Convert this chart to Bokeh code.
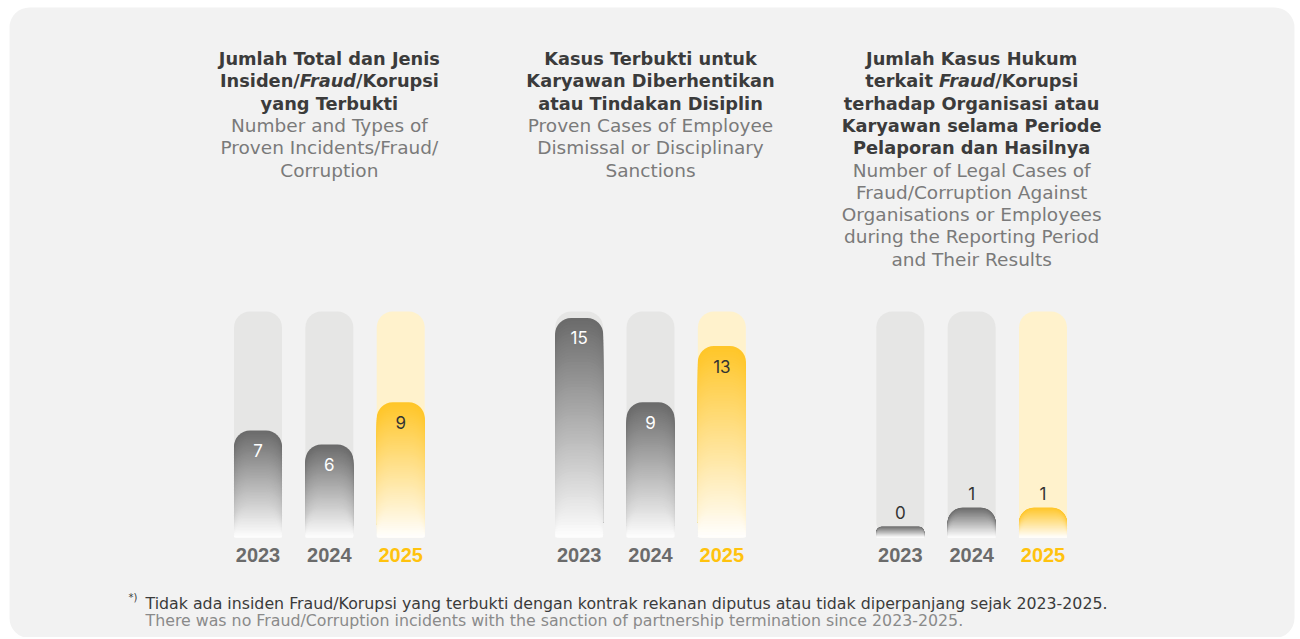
import glob
from bokeh.plotting import figure
from bokeh.models import Range1d, FactorRange, ColumnDataSource
from bokeh.core.properties import value
from bokeh.embed import file_html
from bokeh.resources import INLINE

# ---------------- data ----------------
years = ["2023", "2024", "2025"]
chart_keys = ["c1", "c2", "c3"]
proven_incidents = [7, 6, 9]
dismissal_cases = [15, 9, 13]
legal_cases = [0, 1, 1]

title1_id = ["Jumlah Total dan Jenis",
             [("Insiden/", "bold"), ("Fraud", "bold italic"), ("/Korupsi", "bold")],
             "yang Terbukti"]
title1_en = ["Number and Types of", "Proven Incidents/Fraud/", "Corruption"]
title2_id = ["Kasus Terbukti untuk", "Karyawan Diberhentikan", "atau Tindakan Disiplin"]
title2_en = ["Proven Cases of Employee", "Dismissal or Disciplinary", "Sanctions"]
title3_id = ["Jumlah Kasus Hukum",
             [("terkait ", "bold"), ("Fraud", "bold italic"), ("/Korupsi", "bold")],
             "terhadap Organisasi atau", "Karyawan selama Periode", "Pelaporan dan Hasilnya"]
title3_en = ["Number of Legal Cases of", "Fraud/Corruption Against",
             "Organisations or Employees", "during the Reporting Period", "and Their Results"]

footnote_mark = "*)"
footnote_id = ("Tidak ada insiden Fraud/Korupsi yang terbukti dengan kontrak rekanan "
               "diputus atau tidak diperpanjang sejak 2023-2025.")
footnote_en = ("There was no Fraud/Corruption incidents with the sanction of partnership "
               "termination since 2023-2025.")

# ---------------- layout / style ----------------
W, H = 1300, 637
GROUP_PAD = 1.5
SPAN = 9 + 2 * GROUP_PAD
FIRST_CENTER_PX = 257.5
PAD_SIDE = (FIRST_CENTER_PX * SPAN - 0.5 * W) / (W - 2 * FIRST_CENTER_PX)
PPU_X = W / (SPAN + 2 * PAD_SIDE)
X_START = -PAD_SIDE
BAR_W = 48 / PPU_X
RADIUS = 16


def pv(page_y):
    """page y (from top) -> frame value (from bottom)"""
    return H - page_y


def px_to_x(px):
    return px / PPU_X + X_START


TRACK_BOTTOM, TRACK_TOP = pv(537), pv(311)
SCALES = {"s12": (pv(528.5), 14.07), "s3": (pv(526), 19.0)}  # zero, px per unit

PANEL = "#F2F2F2"
TRACK_GRAY, TRACK_YELLOW = "#E6E6E5", "#FFF2CC"
BAR_GRAY, BAR_YELLOW = "#6B6B6B", "#FFC629"
YEAR_GRAY, YEAR_YELLOW = "#6B6B6B", "#FFC20E"
TITLE_DARK, TITLE_LIGHT = "#3B3B3B", "#7A7A7A"
TITLE_FONT = "DejaVu Sans"
BOLD_SIZE, REG_SIZE = 17.8, 18.5
LINE_H = 22.3
FIRST_LINE_V = pv(58)


def find_font(fname):
    for root in ("/usr/share/fonts", "/usr/local/share/fonts", "/root/.fonts"):
        hits = glob.glob(f"{root}/**/{fname}", recursive=True)
        if hits:
            return hits[0]
    return None


def text_width(txt, style, size):
    fname = "DejaVuSans-BoldOblique.ttf" if "italic" in style else "DejaVuSans-Bold.ttf"
    path = find_font(fname)
    if path:
        try:
            from PIL import ImageFont
            return ImageFont.truetype(path, int(round(size * 4))).getlength(txt) / 4
        except Exception:
            pass
    return 0.66 * size * len(txt)


def mix(c1, c2, t):
    a = [int(c1[i:i + 2], 16) for i in (1, 3, 5)]
    b = [int(c2[i:i + 2], 16) for i in (1, 3, 5)]
    return "#%02x%02x%02x" % tuple(round(a[i] + (b[i] - a[i]) * t) for i in range(3))


factors = [(k, y) for k in chart_keys for y in years]
x_range = FactorRange(factors=factors, group_padding=GROUP_PAD, factor_padding=0.0,
                      range_padding=PAD_SIDE, range_padding_units="absolute")

p = figure(width=W, height=H, output_backend="svg", toolbar_location=None,
           x_range=x_range, y_range=Range1d(0, H),
           x_axis_location=None, y_axis_location=None, min_border=0)
p.extra_y_ranges = {name: Range1d(-z / u, (H - z) / u) for name, (z, u) in SCALES.items()}
p.outline_line_color = None
p.background_fill_color = "white"
p.border_fill_color = "white"
p.grid.visible = False

# background panel
p.quad(left=[px_to_x(9)], right=[px_to_x(1294)], top=[pv(7)], bottom=[pv(637.5)],
       fill_color=PANEL, line_color=None, border_radius=20)

N = 70
charts = [
    ("c1", proven_incidents, "s12", True),
    ("c2", dismissal_cases, "s12", True),
    ("c3", legal_cases, "s3", False),
]
top_cols = [BAR_GRAY, BAR_GRAY, BAR_YELLOW]
track_cols = [TRACK_GRAY, TRACK_GRAY, TRACK_YELLOW]

for key, vals, rname, inside in charts:
    zero, ppu = SCALES[rname]
    b0 = (TRACK_BOTTOM - zero) / ppu
    tt = (TRACK_TOP - zero) / ppu
    xs = [(key, y) for y in years]
    p.vbar(x="x", top="top", bottom=b0, width=BAR_W, fill_color="c", line_color=None,
           border_radius=RADIUS, y_range_name=rname,
           source=ColumnDataSource(dict(x=xs, top=[tt] * 3, c=track_cols)))
    sx, stop, scol = [], [], []
    for x, v, c in zip(xs, vals, top_cols):
        for k in range(N, 0, -1):
            frac = k / N
            sx.append(x)
            stop.append(b0 + (v - b0) * frac)
            scol.append(mix("#FFFFFF", c, frac))
    p.vbar(x="x", top="top", bottom=b0, width=BAR_W, fill_color="c", line_color=None,
           border_radius=RADIUS, y_range_name=rname,
           source=ColumnDataSource(dict(x=sx, top=stop, c=scol)))
    if inside:
        lab_cols = ["#FFFFFF", "#FFFFFF", "#333333"]
        yoff = 20
    else:
        lab_cols = ["#333333"] * 3
        yoff = -14
    p.text(x="x", y="y", text="t", text_color="c", source=ColumnDataSource(
        dict(x=xs, y=vals, t=[str(v) for v in vals], c=lab_cols)),
        y_range_name=rname, y_offset=yoff, text_align="center", text_baseline="middle",
        text_font=value("Inter"), text_font_size="17px")
    p.text(x="x", y="y", text="t", text_color="c", source=ColumnDataSource(
        dict(x=xs, y=[pv(554)] * 3, t=years, c=[YEAR_GRAY, YEAR_GRAY, YEAR_YELLOW])),
        text_align="center", text_baseline="middle",
        text_font=value("Liberation Sans"), text_font_style="bold", text_font_size="20px")

# titles
rows = dict(x=[], y=[], t=[], xo=[], al=[], st=[], sz=[], c=[])


def add_row(x, y, t, xo, al, st, sz, c):
    for k, v in zip(rows.keys(), (x, y, t, xo, al, st, sz, c)):
        rows[k].append(v)


for key, t_id, t_en in (("c1", title1_id, title1_en), ("c2", title2_id, title2_en),
                        ("c3", title3_id, title3_en)):
    xc = (key, "2024")
    i = 0
    for line in t_id:
        y = FIRST_LINE_V - LINE_H * i
        if isinstance(line, str):
            add_row(xc, y, line, 0, "center", "bold", f"{BOLD_SIZE}px", TITLE_DARK)
        else:
            widths = [text_width(s, st, BOLD_SIZE) for s, st in line]
            xo = -sum(widths) / 2
            for (s, st), w in zip(line, widths):
                add_row(xc, y, s, xo, "left", st, f"{BOLD_SIZE}px", TITLE_DARK)
                xo += w
        i += 1
    for line in t_en:
        y = FIRST_LINE_V - LINE_H * i
        add_row(xc, y, line, 0, "center", "normal", f"{REG_SIZE}px", TITLE_LIGHT)
        i += 1

p.text(x="x", y="y", text="t", x_offset="xo", text_align="al", text_font_style="st",
       text_font_size="sz", text_color="c", text_baseline="middle",
       text_font=value(TITLE_FONT), source=ColumnDataSource(rows))

# footnote
p.text(x=[px_to_x(128)], y=[pv(597)], text=[footnote_mark], text_align="left",
       text_baseline="middle", text_font=value(TITLE_FONT), text_font_size="10px",
       text_color="#3B3B3B")
p.text(x=[px_to_x(145)] * 2, y=[pv(603), pv(620)], text=[footnote_id, footnote_en],
       text_color=["#3B3B3B", "#8A8A8A"], text_align="left", text_baseline="middle",
       text_font=value(TITLE_FONT), text_font_size="15.8px")

open("out.html", "w").write(file_html(p, INLINE))
